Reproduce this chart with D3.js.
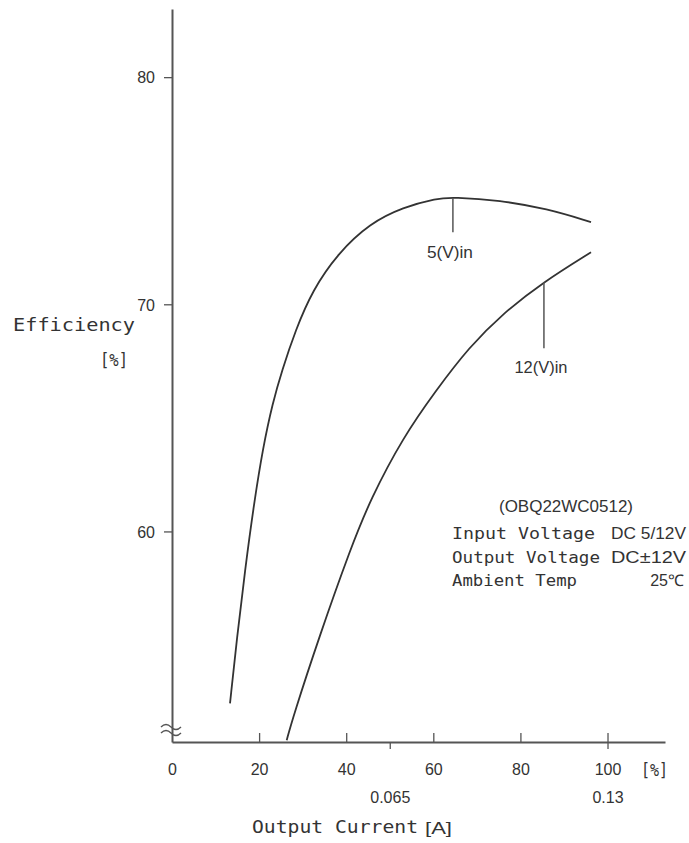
<!DOCTYPE html>
<html lang="en">

<head>
    <meta charset="UTF-8">
    <title>Efficiency vs Output Current</title>
    <script src="https://d3js.org/d3.v7.min.js"></script>
    <style>
        body {
            margin: 0;
            background: #fff;
        }

        svg {
            display: block;
        }

        .prop {
            font-family: 'Liberation Sans Narrow', 'Liberation Sans', sans-serif;
        }

        .mono {
            font-family: 'DejaVu Sans Mono', monospace;
        }
    </style>
</head>

<body>
    <div id="chart"></div>

    <script>
        // output load [%] and efficiency [%]
        const load5V = [13.32, 14.93, 16.76, 18.83, 20.90, 23.08, 25.26, 28.36, 32.26, 38.12, 45.46, 53.04, 60.85, 64.52, 75.32, 86.04, 96.21];
        const eff5V = [52.43, 55.34, 58.29, 61.24, 63.70, 65.64, 67.09, 68.86, 70.62, 72.25, 73.57, 74.27, 74.67, 74.71, 74.58, 74.21, 73.62];

        const load12V = [26.34, 27.78, 33.75, 41.10, 45.58, 53.04, 60.62, 68.20, 76.00, 85.19, 96.21];
        const eff12V = [50.81, 51.82, 55.34, 59.30, 61.42, 64.14, 66.21, 68.11, 69.60, 70.97, 72.29];

        const loadTicks = [0, 20, 40, 60, 80, 100];
        const currentTicks = [0.065, 0.13];   // 100% = 0.13 A
        const effTicks = [60, 70, 80];

        const infoLeft = ["Input Voltage", "Output Voltage", "Ambient Temp"];
        const infoRight = ["DC 5/12V", "DC\u00b112V", "25\u2103"];

        const width = 689, height = 843;
        const svg = d3.select("#chart").append("svg")
            .attr("width", width)
            .attr("height", height);

        const ink = "#333";

        // scales
        let x = d3.scaleLinear().domain([0, 113.2]).range([172, 665]);
        let xA = d3.scaleLinear().domain([0, 0.13]).range([x(0), x(100)]);
        let y = d3.scaleLinear().domain([50.73, 83]).range([742, 9]);

        // y axis
        let yAxis = svg.append("g")
            .attr("transform", `translate(${x(0)},0)`)
            .call(d3.axisLeft(y).tickValues(effTicks).tickSize(8).tickSizeOuter(0).tickPadding(9));
        yAxis.select(".domain").attr("stroke", "#555").attr("stroke-width", 2);
        yAxis.selectAll(".tick line").attr("stroke", "#555").attr("stroke-width", 1.3);
        yAxis.selectAll(".tick text")
            .attr("class", "prop")
            .attr("font-size", 16)
            .attr("fill", ink)
            .attr("dy", "0.36em");

        // x axis (load %), ticks point up
        let xAxis = svg.append("g")
            .attr("transform", `translate(0,${y(50.73)})`)
            .call(d3.axisBottom(x).tickValues(loadTicks).tickSizeInner(-9).tickSizeOuter(0).tickPadding(22));
        xAxis.select(".domain").attr("stroke", "#555").attr("stroke-width", 2);
        xAxis.selectAll(".tick line").attr("stroke", "#555").attr("stroke-width", 1.3)
            .filter(d => d === 0).remove();
        xAxis.selectAll(".tick text")
            .attr("class", "prop")
            .attr("font-size", 16)
            .attr("fill", ink);

        // second row: current in A, ticks point down
        let aAxis = svg.append("g")
            .attr("transform", `translate(0,${y(50.73)})`)
            .call(d3.axisBottom(xA).tickValues(currentTicks).tickSizeInner(7).tickSizeOuter(0).tickPadding(43)
                .tickFormat(d => String(d)));
        aAxis.select(".domain").remove();
        aAxis.selectAll(".tick line").attr("stroke", "#555").attr("stroke-width", 1.3);
        aAxis.selectAll(".tick text")
            .attr("class", "prop")
            .attr("font-size", 16)
            .attr("fill", ink);

        // axis break mark
        [727, 733].forEach(yy => {
            svg.append("path")
                .attr("d", `M161,${yy} q5,-5 10,0 t10,0`)
                .attr("fill", "none")
                .attr("stroke", "#555")
                .attr("stroke-width", 1.4);
        });

        // curves
        let line = d3.line()
            .x(d => x(d[0]))
            .y(d => y(d[1]))
            .curve(d3.curveBasis);

        [[load5V, eff5V], [load12V, eff12V]].forEach(([xs, ys]) => {
            svg.append("path")
                .datum(xs.map((v, i) => [v, ys[i]]))
                .attr("d", line)
                .attr("fill", "none")
                .attr("stroke", ink)
                .attr("stroke-width", 1.8);
        });

        // curve labels with leader lines
        const labels = [
            { text: "5(V)in", at: 64.5, top: 74.68, bottom: 73.17, mid: 72.29, w: 46 },
            { text: "12(V)in", at: 85.4, top: 70.97, bottom: 68.06, mid: 67.23, w: 53 }
        ];
        labels.forEach(l => {
            svg.append("line")
                .attr("x1", x(l.at)).attr("x2", x(l.at))
                .attr("y1", y(l.top)).attr("y2", y(l.bottom))
                .attr("stroke", "#555").attr("stroke-width", 1.5);
            svg.append("text")
                .attr("class", "prop")
                .attr("x", x(l.at) - 3)
                .attr("y", y(l.mid))
                .attr("dy", "0.36em")
                .attr("text-anchor", "middle")
                .attr("font-size", 16)
                .attr("fill", ink)
                .attr("textLength", l.w).attr("lengthAdjust", "spacingAndGlyphs")
                .text(l.text);
        });

        // axis titles
        svg.append("text").attr("class", "mono")
            .attr("x", 13).attr("y", 331)
            .attr("font-size", 17).attr("fill", ink)
            .attr("textLength", 122).attr("lengthAdjust", "spacingAndGlyphs")
            .text("Efficiency");
        svg.append("text").attr("class", "mono")
            .attr("x", 100).attr("y", 366)
            .attr("font-size", 17).attr("fill", ink)
            .attr("textLength", 28).attr("lengthAdjust", "spacingAndGlyphs")
            .text("[%]");
        svg.append("text").attr("class", "mono")
            .attr("x", 641).attr("y", 776)
            .attr("font-size", 17).attr("fill", ink)
            .attr("textLength", 27).attr("lengthAdjust", "spacingAndGlyphs")
            .text("[%]");
        svg.append("text").attr("class", "mono")
            .attr("x", 252).attr("y", 833)
            .attr("font-size", 17).attr("fill", ink)
            .attr("textLength", 166).attr("lengthAdjust", "spacingAndGlyphs")
            .text("Output Current");
        svg.append("text").attr("class", "prop")
            .attr("x", 425).attr("y", 834)
            .attr("font-size", 17).attr("fill", ink)
            .attr("textLength", 27).attr("lengthAdjust", "spacingAndGlyphs")
            .text("[A]");

        // conditions block
        svg.append("text").attr("class", "prop")
            .attr("x", 499).attr("y", 512)
            .attr("font-size", 16).attr("fill", ink)
            .attr("textLength", 134).attr("lengthAdjust", "spacingAndGlyphs")
            .text("(OBQ22WC0512)");
        const leftLen = [143, 148, 125];
        const rightLen = [75, 75, 0];
        infoLeft.forEach((t, i) => {
            svg.append("text").attr("class", "mono")
                .attr("x", 452).attr("y", 539 + i * 23.5)
                .attr("font-size", 16).attr("fill", ink)
                .attr("textLength", leftLen[i]).attr("lengthAdjust", "spacingAndGlyphs")
                .text(t);
        });
        infoRight.forEach((t, i) => {
            let tx = svg.append("text").attr("class", "prop")
                .attr("y", 539 + i * 23.5)
                .attr("font-size", 16).attr("fill", ink)
                .text(t);
            if (rightLen[i]) {
                tx.attr("x", 686 - rightLen[i])
                    .attr("textLength", rightLen[i]).attr("lengthAdjust", "spacingAndGlyphs");
            } else {
                tx.attr("x", 684).attr("text-anchor", "end");
            }
        });
    </script>
</body>

</html>
